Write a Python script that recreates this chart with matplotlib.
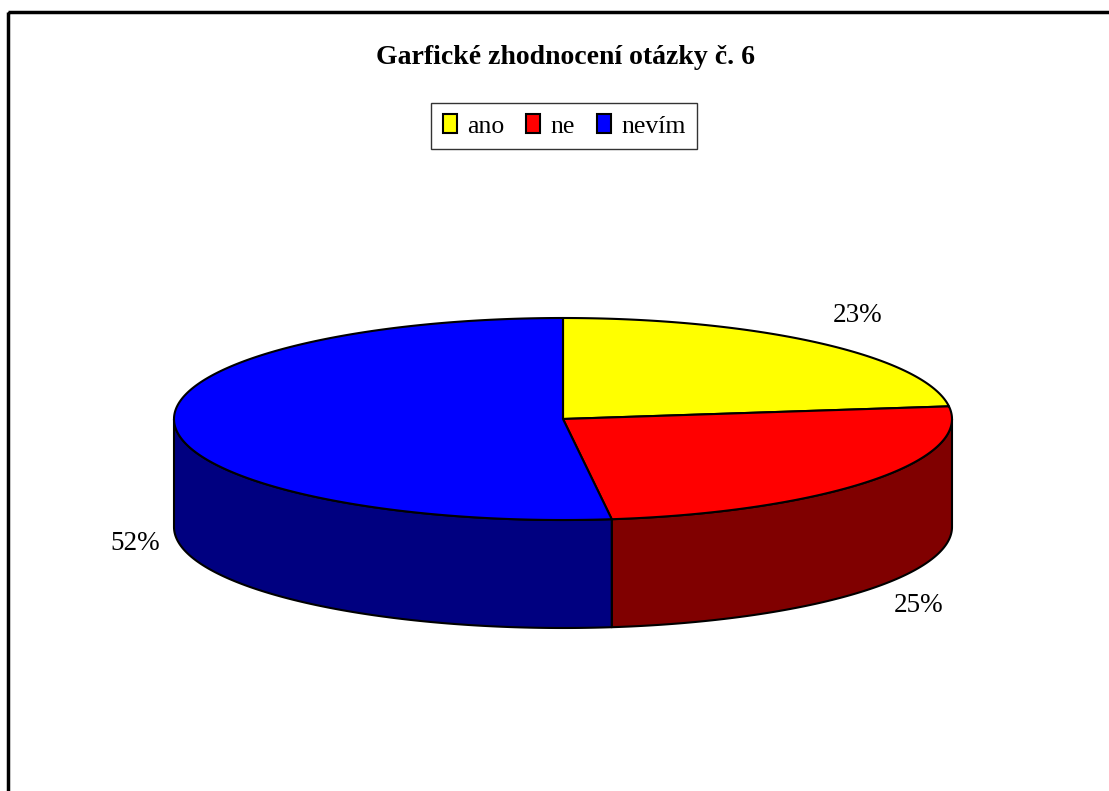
import numpy as np
import matplotlib
matplotlib.use("Agg")
import matplotlib.pyplot as plt
from matplotlib.patches import Polygon, Rectangle, Patch

# ---- data ----
categories = ["ano", "ne", "nevím"]
values = [23, 25, 52]
pct_labels = ["23%", "25%", "52%"]
title = "Garfické zhodnocení otázky č. 6"

# ---- style ----
top_colors = ["#FFFF00", "#FF0000", "#0000FF"]
side_colors = ["#808000", "#800000", "#000080"]
FONT = "Liberation Serif"
W, H = 1109, 791
cx, cy, a, b, depth = 563, 419, 389, 101, 108
label_pos = [(858, 316), (919, 606), (135, 544)]

fig = plt.figure(figsize=(W / 100, H / 100), dpi=100)
ax = fig.add_axes([0, 0, 1, 1])
ax.set_xlim(0, W)
ax.set_ylim(H, 0)
ax.axis("off")

def pt(t_deg, dy=0.0):
    t = np.radians(t_deg)
    return cx + a * np.cos(t), cy - b * np.sin(t) + dy

total = float(sum(values))
starts, ends = [], []
cum = 0.0
for v in values:
    starts.append(90 - cum / total * 360)
    cum += v
    ends.append(90 - cum / total * 360)

# side walls (front half only)
for i in range(len(values)):
    for k in (-1, 0, 1):
        lo = max(ends[i] + 360 * k, -180)
        hi = min(starts[i] + 360 * k, 0)
        if lo < hi:
            ts = np.linspace(hi, lo, 200)
            tx, ty = pt(ts)
            bx, by = pt(ts[::-1], depth)
            poly = np.column_stack([np.concatenate([tx, bx]), np.concatenate([ty, by])])
            ax.add_patch(Polygon(poly, closed=True, facecolor=side_colors[i],
                                 edgecolor="black", linewidth=1.5, joinstyle="round"))

# top wedges
for i in range(len(values)):
    ts = np.linspace(starts[i], ends[i], 300)
    tx, ty = pt(ts)
    poly = np.column_stack([np.concatenate([[cx], tx]), np.concatenate([[cy], ty])])
    ax.add_patch(Polygon(poly, closed=True, facecolor=top_colors[i],
                         edgecolor="black", linewidth=1.5, joinstyle="round"))

# percentage labels
for (lx, ly), s in zip(label_pos, pct_labels):
    ax.text(lx, ly, s, ha="center", va="center", fontsize=19.5, family=FONT)

# title
ax.text(566, 58, title, ha="center", va="center", fontsize=20,
        fontweight="bold", family=FONT)

# outer chart border
ax.add_patch(Rectangle((8, 12), W + 50, H + 50, fill=False, edgecolor="black",
                       linewidth=2.5))

# legend
handles = [Patch(facecolor=c, edgecolor="black", linewidth=1.5) for c in top_colors]
leg = fig.legend(handles, categories, loc="center",
                 bbox_to_anchor=(564 / W, 1 - 126 / H), ncol=3,
                 prop={"family": FONT, "size": 18.5}, frameon=True, fancybox=False,
                 shadow=False, handlelength=0.55, handleheight=0.75,
                 handletextpad=0.4, columnspacing=0.85, borderpad=0.45,
                 borderaxespad=0, edgecolor="black")
leg.get_frame().set_linewidth(1.0)

fig.savefig("out.png", dpi=100)
